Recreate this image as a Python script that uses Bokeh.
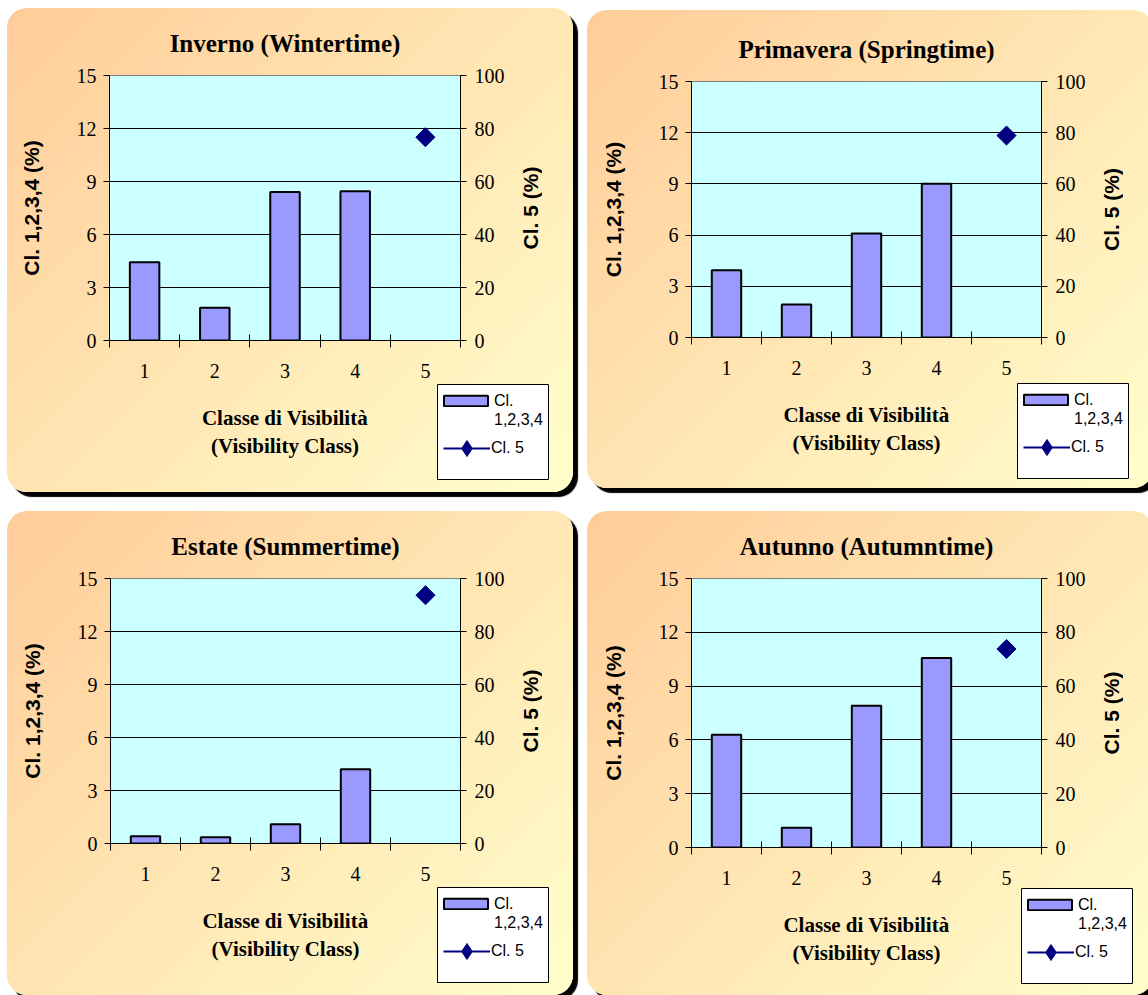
import math
from bokeh.plotting import figure
from bokeh.layouts import column, row
from bokeh.models import (Range1d, LinearAxis, FixedTicker, Legend, LegendItem,
                          GlobalInlineStyleSheet)
from bokeh.embed import file_html
from bokeh.resources import INLINE

# ---------------- data ----------------
titles = ["Inverno (Wintertime)", "Primavera (Springtime)",
          "Estate (Summertime)", "Autunno (Autumntime)"]
classes_14 = [1, 2, 3, 4]
class_5 = [5]
cl1234_winter = [4.43, 1.85, 8.40, 8.45]
cl1234_spring = [3.94, 1.93, 6.09, 9.01]
cl1234_summer = [0.41, 0.36, 1.09, 4.20]
cl1234_autumn = [6.29, 1.10, 7.91, 10.56]
cl5_winter = [76.7]
cl5_spring = [78.9]
cl5_summer = [93.7]
cl5_autumn = [73.8]
x_tick_labels = ["1", "2", "3", "4", "5"]
left_ticks = [0, 3, 6, 9, 12, 15]
right_ticks = [0, 20, 40, 60, 80, 100]
left_label = "Cl. 1,2,3,4 (%)"
right_label = "Cl. 5 (%)"
x_label = "Classe di Visibilità\n(Visibility Class)"
legend_labels = ["Cl.", "1,2,3,4", "Cl. 5"]

bars_all = [cl1234_winter, cl1234_spring, cl1234_summer, cl1234_autumn]
pts_all = [cl5_winter, cl5_spring, cl5_summer, cl5_autumn]

# ---------------- layout (pixels) ----------------
# panel origin relative to root layout, width, height, min borders (l, r, t, b)
layouts = [
    dict(ox=0, oy=0, w=566, h=484, l=102, r=113, t=67, b=152, mt=0),
    dict(ox=580, oy=2, w=566, h=478, l=104, r=112, t=71, b=151, mt=2),
    dict(ox=0, oy=503, w=566, h=484, l=103, r=113, t=67, b=152, mt=0),
    dict(ox=580, oy=503, w=566, h=484, l=104, r=112, t=67, b=148, mt=0),
]
# legend boxes (left, top) relative to the root layout origin
legend_boxes = [(430, 376), (1010, 375), (430, 879), (1014, 880)]
RIGHT_LABEL_GAP = 65   # px from frame right edge to centre of right axis label
RLAB_W = 36

SERIF = "Liberation Serif"
SANS = "Liberation Sans"


def make_panel(i):
    L = layouts[i]
    p = figure(width=L["w"], height=L["h"], x_range=Range1d(0.5, 5.5),
               y_range=Range1d(0, 15), output_backend="svg", toolbar_location=None,
               min_border_left=L["l"], min_border_right=L["r"],
               min_border_top=L["t"], min_border_bottom=L["b"],
               margin=(L["mt"], 0, 0, 0))
    try:
        p.frame_align = False
    except Exception:
        pass
    p.extra_y_ranges = {"r": Range1d(0, 100)}
    p.border_fill_color = None
    p.background_fill_color = "#CCFFFF"
    p.outline_line_color = "#808080"
    p.outline_line_width = 1
    p.styles = {
        "background": "linear-gradient(135deg, #FFCC99 0%, #FFFFCC 100%)",
        "border-radius": "20px",
        "box-shadow": "5px 5px 1px #000000",
    }

    # title
    p.title.text = titles[i]
    p.title.align = "center"
    p.title.text_font = SERIF
    p.title.text_font_style = "bold"
    p.title.text_font_size = "25px"
    p.title.text_color = "#000000"
    p.title.standoff = 38

    # x axis
    xa = p.xaxis[0]
    xa.ticker = FixedTicker(ticks=[1, 2, 3, 4, 5],
                            minor_ticks=[0.5, 1.5, 2.5, 3.5, 4.5, 5.5])
    xa.major_label_overrides = {k + 1: s for k, s in enumerate(x_tick_labels)}
    xa.major_tick_line_color = None
    xa.major_tick_out = 0
    xa.major_tick_in = 0
    xa.minor_tick_line_color = "#000000"
    xa.minor_tick_in = 6
    xa.minor_tick_out = 7
    xa.axis_line_color = "#000000"
    xa.major_label_standoff = 16
    xa.major_label_text_font = SERIF
    xa.major_label_text_font_size = "20px"
    xa.major_label_text_color = "#000000"
    xa.axis_label = x_label
    xa.axis_label_text_font = SERIF
    xa.axis_label_text_font_style = "bold"
    xa.axis_label_text_font_size = "21px"
    xa.axis_label_text_color = "#000000"
    xa.axis_label_standoff = 25
    try:
        xa.axis_label_text_line_height = 1.18
    except Exception:
        pass

    # left axis
    ya = p.yaxis[0]
    ya.ticker = FixedTicker(ticks=left_ticks, minor_ticks=[])
    ya.major_tick_out = 6
    ya.major_tick_in = 0
    ya.major_tick_line_color = "#000000"
    ya.axis_line_color = "#000000"
    ya.major_label_standoff = 7
    ya.major_label_text_font = SERIF
    ya.major_label_text_font_size = "20px"
    ya.major_label_text_color = "#000000"
    ya.axis_label = left_label
    ya.axis_label_text_font = SANS
    ya.axis_label_text_font_style = "bold"
    ya.axis_label_text_font_size = "21px"
    ya.axis_label_text_color = "#000000"
    ya.axis_label_standoff = 31

    # right axis (its title is drawn by a small companion figure, see below)
    ra = LinearAxis(y_range_name="r", ticker=FixedTicker(ticks=right_ticks, minor_ticks=[]))
    ra.major_tick_out = 6
    ra.major_tick_in = 0
    ra.major_tick_line_color = "#000000"
    ra.axis_line_color = "#000000"
    ra.major_label_standoff = 8
    ra.major_label_text_font = SERIF
    ra.major_label_text_font_size = "20px"
    ra.major_label_text_color = "#000000"
    p.add_layout(ra, "right")

    # grid
    p.xgrid.visible = False
    p.ygrid.ticker = FixedTicker(ticks=left_ticks[1:-1])
    p.ygrid.grid_line_color = "#000000"
    p.ygrid.grid_line_width = 1

    # glyphs
    p.vbar(x=classes_14, top=bars_all[i], width=0.42, bottom=0,
           fill_color="#9999FF", line_color="#000000", line_width=2)
    p.line(x=class_5, y=pts_all[i], y_range_name="r",
           line_color="#000080", line_width=2)
    p.scatter(x=class_5, y=pts_all[i], y_range_name="r", marker="square",
              angle=math.pi / 4, size=13.5,
              fill_color="#000080", line_color="#000080")
    return p


def make_right_label(i):
    """Small transparent figure whose left-axis title reads bottom-to-top,
    placed next to the right axis of panel i."""
    L = layouts[i]
    frame_top = L["oy"] + L["t"]
    frame_h = L["h"] - L["t"] - L["b"]
    cx = L["ox"] + L["w"] - L["r"] + RIGHT_LABEL_GAP
    left = cx - RLAB_W // 2 - 1
    f = figure(width=RLAB_W, height=frame_h, x_range=Range1d(0, 1), y_range=Range1d(0, 100),
               x_axis_type=None, output_backend="svg", toolbar_location=None,
               min_border_left=RLAB_W - 1, min_border_right=0, min_border_top=0,
               min_border_bottom=0,
               styles={"position": "absolute", "left": f"{left}px", "top": f"{frame_top}px"})
    try:
        f.frame_align = False
    except Exception:
        pass
    f.border_fill_color = None
    f.background_fill_color = None
    f.outline_line_color = None
    f.ygrid.visible = False
    ax = f.yaxis[0]
    ax.ticker = FixedTicker(ticks=[], minor_ticks=[])
    ax.axis_line_color = None
    ax.major_tick_line_color = None
    ax.minor_tick_line_color = None
    ax.major_tick_out = 0
    ax.major_tick_in = 0
    ax.major_label_standoff = 0
    ax.axis_label = right_label
    ax.axis_label_standoff = 0
    ax.axis_label_text_font = SANS
    ax.axis_label_text_font_style = "bold"
    ax.axis_label_text_font_size = "21px"
    ax.axis_label_text_color = "#000000"
    return f


def make_legend(i):
    bx, by = legend_boxes[i]
    lf = figure(width=112, height=96, x_range=Range1d(100, 101), y_range=Range1d(100, 101),
                x_axis_type=None, y_axis_type=None, output_backend="svg",
                toolbar_location=None, min_border=0,
                styles={"position": "absolute", "left": f"{bx}px", "top": f"{by}px"})
    try:
        lf.frame_align = False
    except Exception:
        pass
    lf.extra_y_ranges = {"r": Range1d(0, 100)}
    lf.background_fill_color = "#FFFFFF"
    lf.border_fill_color = None
    lf.outline_line_color = "#000000"
    lf.outline_line_width = 1
    bars = lf.vbar(x=classes_14, top=bars_all[i], width=0.42, bottom=0,
                   fill_color="#9999FF", line_color="#000000", line_width=2)
    ghost = lf.line(x=classes_14, y=bars_all[i], line_alpha=0.0)
    ln = lf.line(x=class_5, y=pts_all[i], y_range_name="r",
                 line_color="#000080", line_width=2)
    sc = lf.scatter(x=class_5, y=pts_all[i], y_range_name="r", marker="diamond",
                    size=12, fill_color="#000080", line_color="#000080")

    common = dict(padding=0, margin=0, spacing=0, border_line_color=None,
                  background_fill_alpha=0.0, label_text_font=SANS,
                  label_text_font_size="16px", label_text_color="#000000",
                  label_height=19)
    lg1 = Legend(items=[LegendItem(label=legend_labels[0], renderers=[bars]),
                        LegendItem(label=legend_labels[1], renderers=[ghost])],
                 location=(1, 51), glyph_width=55, glyph_height=13,
                 label_standoff=1, **common)
    lg2 = Legend(items=[LegendItem(label=legend_labels[2], renderers=[ln, sc])],
                 location=(6, 12), glyph_width=47, glyph_height=40,
                 label_standoff=1, **common)
    lf.add_layout(lg1, "center")
    lf.add_layout(lg2, "center")
    return lf


panels = [make_panel(i) for i in range(4)]
right_labels = [make_right_label(i) for i in range(4)]
legends = [make_legend(i) for i in range(4)]

layout = column(
    row(panels[0], panels[1], spacing=14),
    row(panels[2], panels[3], spacing=14),
    *right_labels,
    *legends,
    spacing=19,
    margin=(8, 0, 0, 7),
    styles={"position": "relative"},
    stylesheets=[GlobalInlineStyleSheet(css="html, body { overflow: hidden; }")],
)

html = file_html(layout, INLINE)
open("out.html", "w").write(html)
